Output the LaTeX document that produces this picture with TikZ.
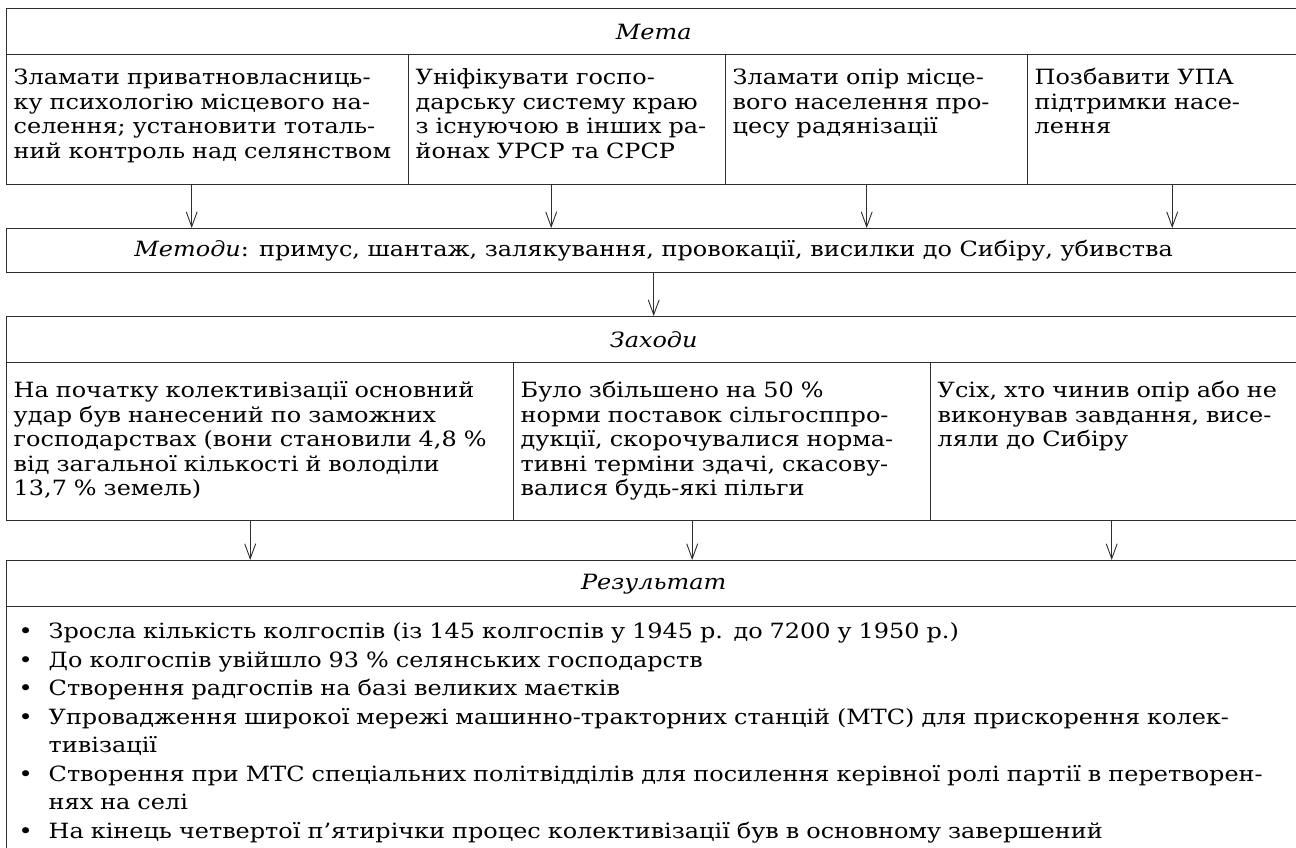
\documentclass[tikz,border=0pt]{standalone}
\usepackage{fontspec}
\setmainfont{DejaVu Serif}[FakeStretch=1.14]
\usetikzlibrary{arrows.meta,positioning,calc}
\definecolor{lineC}{RGB}{45,45,45}
\newcommand{\bodyfont}{\fontsize{21}{24.5}\selectfont}
\newcommand{\listfont}{\fontsize{21}{28.5}\selectfont}
\newcommand{\bul}{\makebox[35pt][l]{\hspace{5pt}\textbullet}}
\newcommand{\indt}{\hspace*{35pt}}
\tikzset{
  frame/.style={draw=lineC,line width=1.4pt,anchor=north west,inner sep=0pt,font=\bodyfont},
  headbox/.style={frame,minimum width=1294pt,minimum height=#1,font=\bodyfont\itshape},
  cell/.style={frame,align=left,inner xsep=7pt,text height=30pt},
  arr/.style={draw=lineC,line width=0.9pt,-{Straight Barb[length=15pt,width=11pt]}}
}

\begin{document}
\begin{tikzpicture}[x=1pt,y=1pt]
		\useasboundingbox (0,0) rectangle (1296,-847);
		\clip (0,0) rectangle (1296,-847);
		% мета
		\node[headbox=46pt] (meta) at (6,-8) {Мета};
		\node[cell,text width=388pt,text depth=100pt] (g1) at (6,-54) {Зламати приватновласниць-\\ку психологію місцевого на-\\селення; установити тоталь-\\ний контроль над селянством};
		\node[cell,text width=303pt,text depth=100pt] (g2) at (408,-54) {Уніфікувати госпо-\\дарську систему краю\\з існуючою в інших ра-\\йонах УРСР та СРСР};
		\node[cell,text width=288pt,text depth=100pt] (g3) at (725,-54) {Зламати опір місце-\\вого населення про-\\цесу радянізації};
		\node[cell,text width=259pt,text depth=100pt] (g4) at (1027,-54) {Позбавити УПА\\підтримки насе-\\лення};
		% методи
		\node[frame,minimum width=1294pt,minimum height=44pt] (metody) at (6,-228) {\textit{Методи}: примус, шантаж, залякування, провокації, висилки до Сибіру, убивства};
		% заходи
		\node[headbox=46pt] (zahody) at (6,-316) {Заходи};
		\node[cell,text width=493pt,text height=35pt,text depth=123pt] (z1) at (6,-362) {На початку колективізації основний\\удар був нанесений по заможних\\господарствах (вони становили 4,8~\%\\від загальної кількості й володіли\\13,7~\% земель)};
		\node[cell,text width=403pt,text height=35pt,text depth=123pt] (z2) at (513,-362) {Було збільшено на 50~\%\\норми поставок сільгосппро-\\дукції, скорочувалися норма-\\тивні терміни здачі, скасову-\\валися будь-які пільги};
		\node[cell,text width=356pt,text height=35pt,text depth=123pt] (z3) at (930,-362) {Усіх, хто чинив опір або не\\виконував завдання, висе-\\ляли до Сибіру};
		% результат
		\node[headbox=46pt] (rezult) at (6,-560) {Результат};
		\node[cell,text width=1280pt,text height=32pt,text depth=240pt,font=\listfont] (res) at (6,-606) {\bul Зросла кількість колгоспів (із 145 колгоспів у 1945 р. до 7200 у 1950 р.)\\
			\bul До колгоспів увійшло 93~\% селянських господарств\\
			\bul Створення радгоспів на базі великих маєтків\\
			\bul Упровадження широкої мережі машинно-тракторних станцій (МТС) для прискорення колек-\\
			\indt тивізації\\
			\bul Створення при МТС спеціальних політвідділів для посилення керівної ролі партії в перетворен-\\
			\indt нях на селі\\
			\bul На кінець четвертої п’ятирічки процес колективізації був в основному завершений};
		% стрілки
		\foreach \g/\dx in {g1/-16,g2/-16,g3/-10,g4/8}
			\draw[arr] ([xshift=\dx pt]\g.south) -- ([xshift=\dx pt]\g.south |- metody.north);
		\draw[arr] (metody.south) -- (zahody.north);
		\foreach \z/\dx in {z1/-10,z2/-30,z3/-4}
			\draw[arr] ([xshift=\dx pt]\z.south) -- ([xshift=\dx pt]\z.south |- rezult.north);
\end{tikzpicture}
\end{document}
